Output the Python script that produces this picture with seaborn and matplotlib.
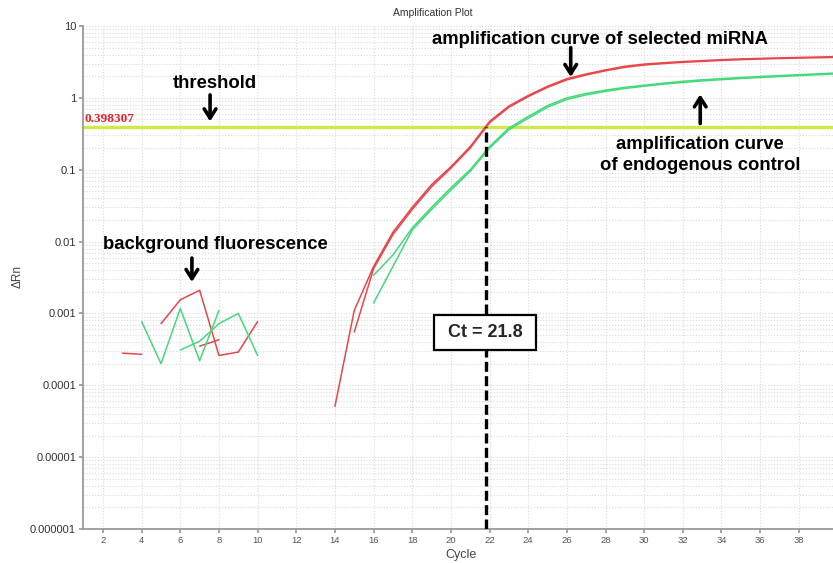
import numpy as np
import pandas as pd
import matplotlib
matplotlib.use("Agg")
import matplotlib.pyplot as plt
from matplotlib.ticker import LogLocator, FixedLocator, NullFormatter
import seaborn as sns

# Amplification data (delta Rn per cycle), two replicate wells per target
mirna_a_cycles = list(range(14, 41))
mirna_a_rn = [5.1e-5, 1.1e-3, 4.5e-3, 0.0135, 0.030, 0.062, 0.11, 0.21, 0.47, 0.77,
              1.08, 1.45, 1.85, 2.15, 2.45, 2.75, 2.95, 3.08, 3.2, 3.3, 3.4, 3.48,
              3.54, 3.6, 3.65, 3.7, 3.75]
mirna_b_cycles = list(range(15, 41))
mirna_b_rn = [5.5e-4, 4.2e-3, 0.0125, 0.028, 0.058, 0.105, 0.20, 0.45, 0.74, 1.04,
              1.4, 1.78, 2.08, 2.38, 2.66, 2.86, 3.0, 3.12, 3.22, 3.32, 3.4, 3.47,
              3.53, 3.58, 3.62, 3.66]
control_a_cycles = list(range(16, 41))
control_a_rn = [3.4e-3, 6.5e-3, 0.0155, 0.030, 0.056, 0.10, 0.21, 0.38, 0.55, 0.78,
                1.0, 1.15, 1.28, 1.4, 1.5, 1.6, 1.7, 1.78, 1.85, 1.92, 1.98, 2.04,
                2.1, 2.16, 2.22]
control_b_cycles = list(range(16, 41))
control_b_rn = [1.4e-3, 4.5e-3, 0.0145, 0.028, 0.052, 0.095, 0.20, 0.36, 0.52, 0.74,
                0.95, 1.1, 1.23, 1.35, 1.45, 1.55, 1.64, 1.72, 1.79, 1.86, 1.92,
                1.98, 2.04, 2.1, 2.16]

# Early-cycle background readings (noise below detection)
bg_mirna_1_cycles = [3, 4]
bg_mirna_1_rn = [2.8e-4, 2.7e-4]
bg_mirna_2_cycles = [5, 6, 7, 8, 9, 10]
bg_mirna_2_rn = [7.2e-4, 1.55e-3, 2.1e-3, 2.6e-4, 2.9e-4, 7.7e-4]
bg_mirna_3_cycles = [7, 8]
bg_mirna_3_rn = [3.5e-4, 4.3e-4]
bg_control_1_cycles = [4, 5, 6, 7, 8]
bg_control_1_rn = [7.7e-4, 2.0e-4, 1.17e-3, 2.2e-4, 1.1e-3]
bg_control_2_cycles = [6, 7, 8, 9, 10]
bg_control_2_rn = [3.1e-4, 4.1e-4, 7.2e-4, 1.0e-3, 2.6e-4]

threshold = 0.398307
ct_value = 21.8

x_ticks = list(range(2, 40, 2))
y_ticks = [1e-6, 1e-5, 1e-4, 1e-3, 1e-2, 1e-1, 1, 10]
y_tick_labels = ["0.000001", "0.00001", "0.0001", "0.001", "0.01", "0.1", "1", "10"]

segments = [
    ("miRNA", "m1", mirna_a_cycles, mirna_a_rn),
    ("miRNA", "m2", mirna_b_cycles, mirna_b_rn),
    ("control", "c1", control_a_cycles, control_a_rn),
    ("control", "c2", control_b_cycles, control_b_rn),
    ("miRNA", "bm1", bg_mirna_1_cycles, bg_mirna_1_rn),
    ("miRNA", "bm2", bg_mirna_2_cycles, bg_mirna_2_rn),
    ("miRNA", "bm3", bg_mirna_3_cycles, bg_mirna_3_rn),
    ("control", "bc1", bg_control_1_cycles, bg_control_1_rn),
    ("control", "bc2", bg_control_2_cycles, bg_control_2_rn),
]
df = pd.concat(
    [pd.DataFrame({"cycle": c, "rn": r, "target": t, "well": w}) for t, w, c, r in segments],
    ignore_index=True,
)

sns.set_theme(style="white")
plt.rcParams["font.family"] = ["Liberation Sans", "DejaVu Sans"]

fig = plt.figure(figsize=(8.33, 5.63), dpi=100)
ax = fig.add_axes([83 / 833, 1 - 529 / 563, 750 / 833, 503 / 563])

ax.set_yscale("log")
ax.set_xlim(0.965, 39.77)
ax.set_ylim(1e-6, 10)

# grid
ax.yaxis.set_major_locator(FixedLocator(y_ticks))
ax.yaxis.set_minor_locator(LogLocator(base=10, subs=np.arange(2, 10)))
ax.yaxis.set_minor_formatter(NullFormatter())
ax.set_yticklabels(y_tick_labels)
ax.set_xticks(x_ticks)
grid_kw = dict(color="#dadada", linestyle=(0, (1, 1.6)), lw=0.8)
ax.grid(True, which="both", axis="y", **grid_kw)
ax.grid(True, which="major", axis="x", **grid_kw)
ax.set_axisbelow(True)

for s in ["top", "right"]:
    ax.spines[s].set_visible(False)
for s in ["left", "bottom"]:
    ax.spines[s].set_color("#9a9a9a")
    ax.spines[s].set_linewidth(1.3)

ax.tick_params(axis="y", which="major", labelsize=8, labelcolor="#333333",
               length=3, color="#9a9a9a", left=True, pad=2)
ax.tick_params(axis="y", which="minor", length=0)
ax.tick_params(axis="x", labelsize=6.8, labelcolor="#555555", length=3,
               color="#9a9a9a", bottom=True, pad=2)

# amplification curves
sns.lineplot(data=df, x="cycle", y="rn", hue="target", units="well", estimator=None,
             palette={"miRNA": "#e8464b", "control": "#45d97a"}, lw=1.1,
             legend=False, ax=ax, zorder=3)

# threshold
ax.axhline(threshold, color="#cfe84a", lw=2.4, zorder=2)
ax.text(1.02, threshold * 1.04, f"{threshold:g}", color="#e8202a",
        family=["Liberation Serif", "DejaVu Serif"], fontweight="bold",
        fontsize=9.5, ha="left", va="bottom", zorder=4)

# Ct marker
ax.vlines(ct_value, 1e-6, threshold, color="black", lw=2.4,
          linestyle=(0, (3, 1.3)), zorder=4)
ax.text(ct_value - 0.04, 5.5e-4, f" Ct = {ct_value} ", fontsize=13, fontweight="bold",
        ha="center", va="center", zorder=5,
        bbox=dict(boxstyle="square,pad=0.5", fc="white", ec="black", lw=1.6))

ax.set_xlabel("")
ax.set_ylabel("")
fig.text(461 / 833, 1 - 555 / 563, "Cycle", fontsize=9, color="#444444",
         ha="center", va="center")
fig.text(18 / 833, 1 - 277 / 563, "ΔRn", rotation=90, fontsize=8.5,
         color="#444444", ha="center", va="center")
fig.text(433 / 833, 1 - 13 / 563, "Amplification Plot", fontsize=7.5,
         color="#333333", ha="center", va="center")

# callouts
arrow_kw = dict(arrowstyle="->,head_length=0.55,head_width=0.35", color="black", lw=2.6,
                shrinkA=0, shrinkB=0)
txt_kw = dict(fontsize=13.3, fontweight="bold", color="black", ha="center", va="center",
              zorder=6)

ax.text(7.8, 1.58, "threshold", **txt_kw)
ax.annotate("", xy=(7.54, 0.47), xytext=(7.54, 1.1), arrowprops=arrow_kw)

ax.text(27.7, 6.4, "amplification curve of selected miRNA", **txt_kw)
ax.annotate("", xy=(26.2, 1.95), xytext=(26.2, 5.0), arrowprops=arrow_kw)

ax.text(32.9, 0.158, "amplification curve\nof endogenous control", linespacing=1.3,
        **txt_kw)
ax.annotate("", xy=(32.9, 1.12), xytext=(32.9, 0.44), arrowprops=arrow_kw)

ax.text(7.8, 0.009, "background fluorescence", **txt_kw)
ax.annotate("", xy=(6.6, 0.00274), xytext=(6.6, 0.0059), arrowprops=arrow_kw)

fig.savefig("out.png", dpi=100, facecolor="white")
